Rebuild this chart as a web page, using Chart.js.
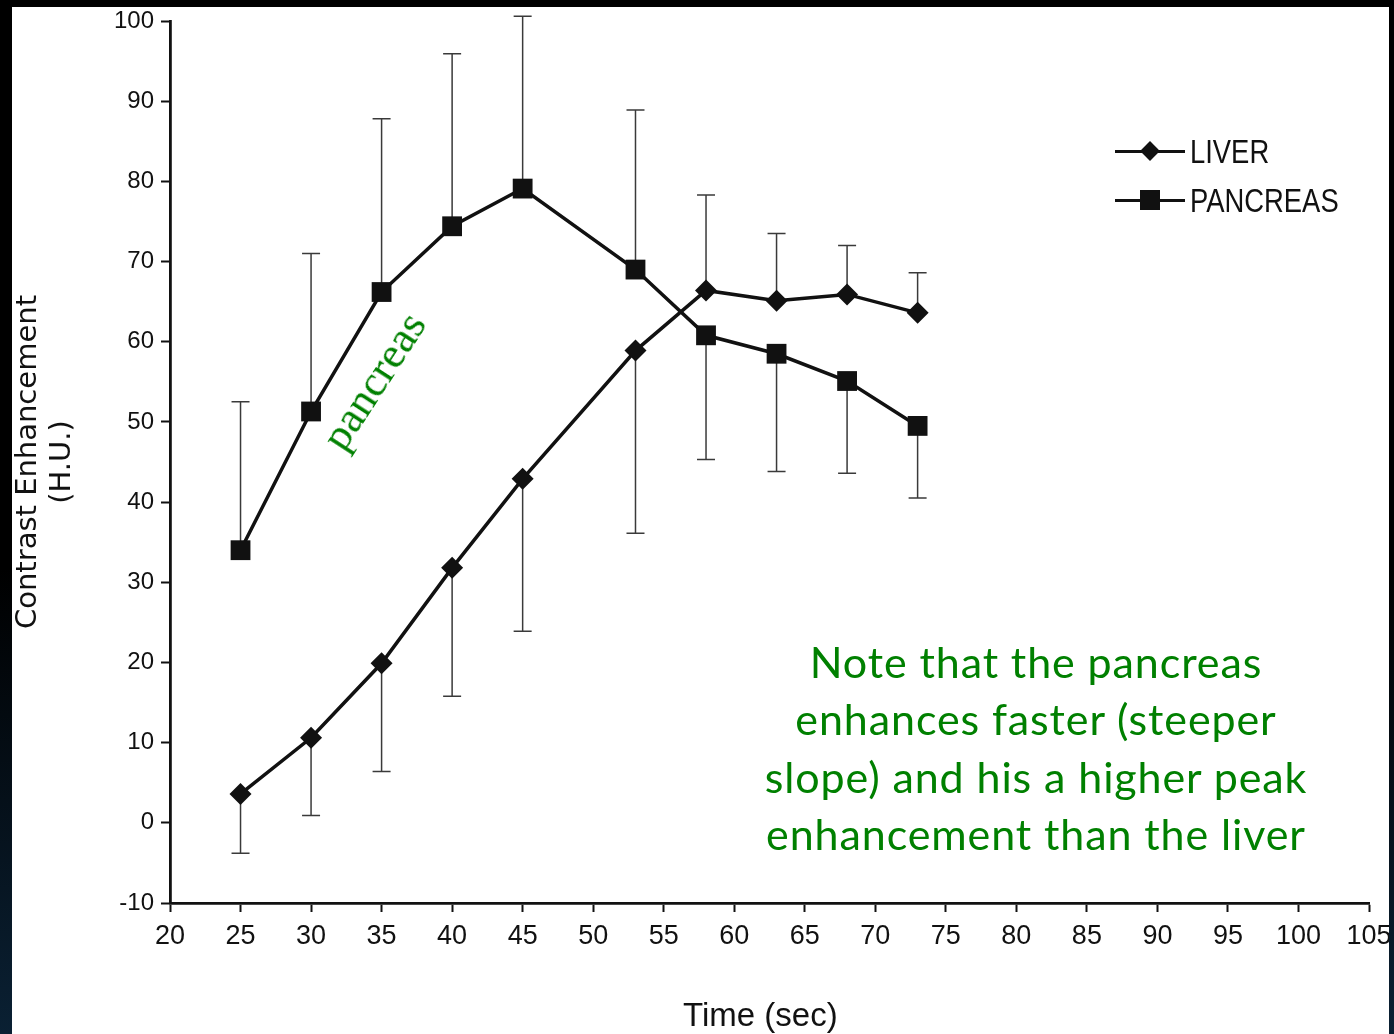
<!DOCTYPE html>
<html>
<head>
<meta charset="utf-8">
<title>Contrast enhancement: liver vs pancreas</title>
<script src="https://cdn.jsdelivr.net/npm/chart.js@4.4.1/dist/chart.umd.min.js"></script>
<style>
  html, body { margin: 0; padding: 0; }
  body {
    width: 1394px; height: 1034px; overflow: hidden; position: relative;
    background: linear-gradient(#000 55%, #0a2033 100%);
  }
  #sheet { position: absolute; left: 12px; top: 7px; width: 1377px; height: 1027px; background: #fff; }
  #chart { position: absolute; left: 0; top: 0; }
  .leg-line { position: absolute; left: 1115px; width: 70px; height: 3px; background: #111; }
  .leg-dia { position: absolute; width: 14px; height: 14px; background: #111; transform: rotate(45deg); }
  .leg-sq { position: absolute; width: 20px; height: 20px; background: #111; }
  .leg-text {
    position: absolute; left: 1190px; font-family: 'Liberation Sans', Arial, sans-serif;
    font-size: 33px; line-height: 33px; color: #111; white-space: nowrap;
    transform: scaleX(0.83); transform-origin: left center;
  }
  #note {
    position: absolute; left: 636px; top: 633px; width: 800px; text-align: center;
    font-family: Lato, 'Open Sans', sans-serif; font-size: 43px; line-height: 57.3px;
    letter-spacing: 0.9px; color: #008000;
  }
  #organ {
    position: absolute; left: 274px; top: 356px; width: 200px; text-align: center;
    font-family: 'Liberation Serif', 'DejaVu Serif', serif; font-size: 44px; line-height: 50px; color: #008000;
    transform: rotate(-57deg);
  }
</style>
</head>
<body>
<div id="sheet"><canvas id="chart" width="1377" height="1027"></canvas></div>

<div class="leg-line" style="top:149.5px"></div>
<div class="leg-dia" style="left:1143px; top:144px"></div>
<div class="leg-text" style="top:134.5px">LIVER</div>
<div class="leg-line" style="top:198.5px"></div>
<div class="leg-sq" style="left:1140px; top:190px"></div>
<div class="leg-text" style="top:183.5px">PANCREAS</div>

<div id="organ">pancreas</div>
<div id="note">Note that the pancreas<br>enhances faster (steeper<br>slope) and his a higher peak<br>enhancement than the liver</div>

<script>
// values
const times = [25, 30, 35, 40, 45, 53, 58, 63, 68, 73];
const liver = [3.6, 10.6, 19.9, 31.8, 42.9, 58.9, 66.4, 65.1, 65.9, 63.6];
const liverBarEnd = [-3.8, 0.9, 6.4, 15.8, 23.9, 36.1, 78.3, 73.5, 72.0, 68.6];
const pancreas = [34.0, 51.3, 66.2, 74.4, 79.1, 69.0, 60.8, 58.5, 55.1, 49.5];
const pancreasBarEnd = [52.5, 71.0, 87.8, 95.9, 100.6, 88.9, 45.3, 43.8, 43.6, 40.5];

const xMin = 20, xMax = 105, xStep = 5;
const yMin = -10, yMax = 100, yStep = 10;

const ink = '#111';
const sans = "'Liberation Sans', Arial, sans-serif";

function points(values) {
  return values.map((v, i) => ({ x: times[i], y: v }));
}

// whiskers from each mean to its one-sided SD end
const errorBars = {
  id: 'errorBars',
  beforeDatasetsDraw(chart) {
    const { ctx, scales: { x, y } } = chart;
    ctx.save();
    ctx.strokeStyle = '#3a3a3a';
    ctx.lineWidth = 1.5;
    chart.data.datasets.forEach(ds => {
      ds.barEnds.forEach((end, i) => {
        const px = x.getPixelForValue(times[i]);
        const from = y.getPixelForValue(ds.data[i].y);
        const to = y.getPixelForValue(end);
        ctx.beginPath();
        ctx.moveTo(px, from);
        ctx.lineTo(px, to);
        ctx.moveTo(px - 9, to);
        ctx.lineTo(px + 9, to);
        ctx.stroke();
      });
    });
    ctx.restore();
  }
};

new Chart(document.getElementById('chart'), {
  type: 'line',
  data: {
    datasets: [
      {
        label: 'LIVER',
        data: points(liver),
        barEnds: liverBarEnd,
        borderColor: ink,
        borderWidth: 3.5,
        pointStyle: 'rectRot',
        pointRadius: 11,
        pointBackgroundColor: ink,
        pointBorderWidth: 0,
        tension: 0
      },
      {
        label: 'PANCREAS',
        data: points(pancreas),
        barEnds: pancreasBarEnd,
        borderColor: ink,
        borderWidth: 3.5,
        pointStyle: 'rect',
        pointRadius: 14,
        pointBackgroundColor: ink,
        pointBorderWidth: 0,
        tension: 0
      }
    ]
  },
  options: {
    responsive: false,
    animation: false,
    devicePixelRatio: 1,
    layout: { padding: { left: 0, top: 13, right: 20, bottom: 0 } },
    plugins: { legend: { display: false }, tooltip: { enabled: false } },
    scales: {
      x: {
        type: 'linear', min: xMin, max: xMax,
        ticks: { stepSize: xStep, autoSkip: false, maxRotation: 0, color: ink, padding: 8,
                 font: { family: sans, size: 27 } },
        grid: { drawOnChartArea: false, drawTicks: true, tickLength: 9, tickWidth: 2, tickColor: ink },
        border: { display: true, color: ink, width: 2.8 },
        title: { display: true, text: 'Time (sec)\u00a0\u00a0', color: ink, padding: { top: 0, bottom: 0.5 },
                 font: { family: sans, size: 33, lineHeight: 1 } },
        afterFit(s) { s.height = 131; s.paddingLeft = 0; s.paddingRight = 0; }
      },
      y: {
        type: 'linear', min: yMin, max: yMax,
        ticks: { stepSize: yStep, color: ink, padding: 7,
                 font: { family: sans, size: 24 } },
        grid: { drawOnChartArea: false, drawTicks: true, tickLength: 9, tickWidth: 2, tickColor: ink },
        border: { display: true, color: ink, width: 2.8 },
        title: { display: true, text: ['Contrast Enhancement', '(H.U.)'], color: ink,
                 padding: { top: 0, bottom: 0 }, font: { family: "'DejaVu Sans', sans-serif", size: 29, lineHeight: 1.15 } },
        afterFit(s) { s.width = 158; s.paddingTop = 0; s.paddingBottom = 0; }
      }
    }
  },
  plugins: [errorBars]
});
</script>
</body>
</html>
